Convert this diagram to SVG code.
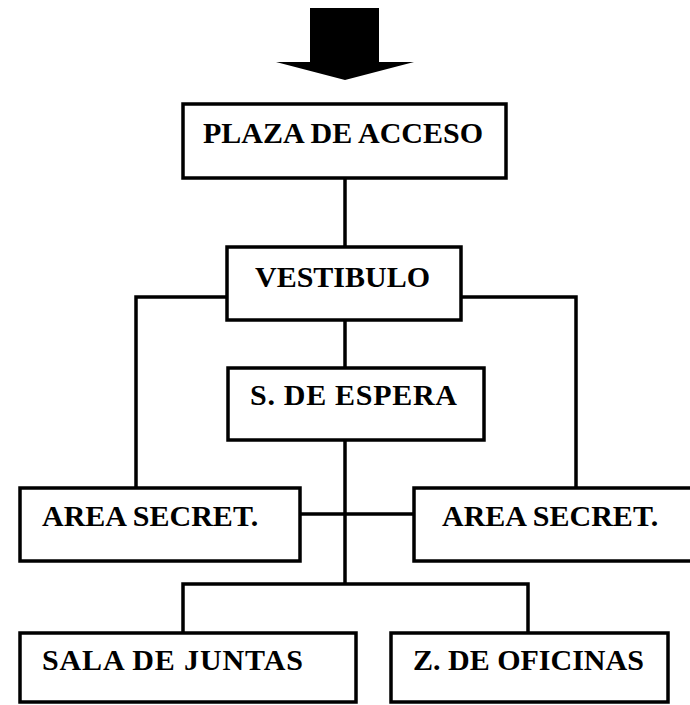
<svg xmlns="http://www.w3.org/2000/svg" width="690" height="705" viewBox="0 0 690 705">
<style>
.box{fill:#fff;stroke:#000;stroke-width:3.5}
.con{fill:none;stroke:#000;stroke-width:3.5}
</style>
<rect width="690" height="705" fill="#fff"/>
<g id="entrance-arrow">
<polygon points="310,8 379,8 379,62 414,62 345,80 276,62 310,62" fill="#000"/>
</g>
<g id="connectors">
<line class="con" x1="345" y1="178" x2="345" y2="247"/>
<line class="con" x1="345" y1="320" x2="345" y2="368"/>
<polyline class="con" points="227,297 136,297 136,488"/>
<polyline class="con" points="461,297 576,297 576,488"/>
<line class="con" x1="345" y1="440" x2="345" y2="584"/>
<line class="con" x1="300" y1="514" x2="414" y2="514"/>
<polyline class="con" points="183,633 183,584 528,584 528,633"/>
</g>
<g id="plaza-acceso">
<rect class="box" x="183" y="104" width="323" height="74"/>
<text x="203" y="143" font-family="Liberation Serif" font-weight="bold" font-size="30">PLAZA DE ACCESO</text>
</g>
<g id="vestibulo">
<rect class="box" x="227" y="247" width="234" height="73"/>
<text x="255" y="287" font-family="Liberation Serif" font-weight="bold" font-size="30">VESTIBULO</text>
</g>
<g id="sala-espera">
<rect class="box" x="228" y="368" width="256" height="72"/>
<text x="250" y="405" font-family="Liberation Serif" font-weight="bold" font-size="30" textLength="207">S. DE ESPERA</text>
</g>
<g id="area-secret-left">
<rect class="box" x="20" y="488" width="280" height="73"/>
<text x="42" y="526" font-family="Liberation Serif" font-weight="bold" font-size="30">AREA SECRET.</text>
</g>
<g id="area-secret-right">
<rect class="box" x="414" y="488" width="280" height="73"/>
<text x="442" y="526" font-family="Liberation Serif" font-weight="bold" font-size="30">AREA SECRET.</text>
</g>
<g id="sala-juntas">
<rect class="box" x="20" y="633" width="336" height="69"/>
<text x="42" y="670" font-family="Liberation Serif" font-weight="bold" font-size="30" textLength="261">SALA DE JUNTAS</text>
</g>
<g id="z-oficinas">
<rect class="box" x="391" y="633" width="277" height="69"/>
<text x="413" y="670" font-family="Liberation Serif" font-weight="bold" font-size="30">Z. DE OFICINAS</text>
</g>
</svg>
